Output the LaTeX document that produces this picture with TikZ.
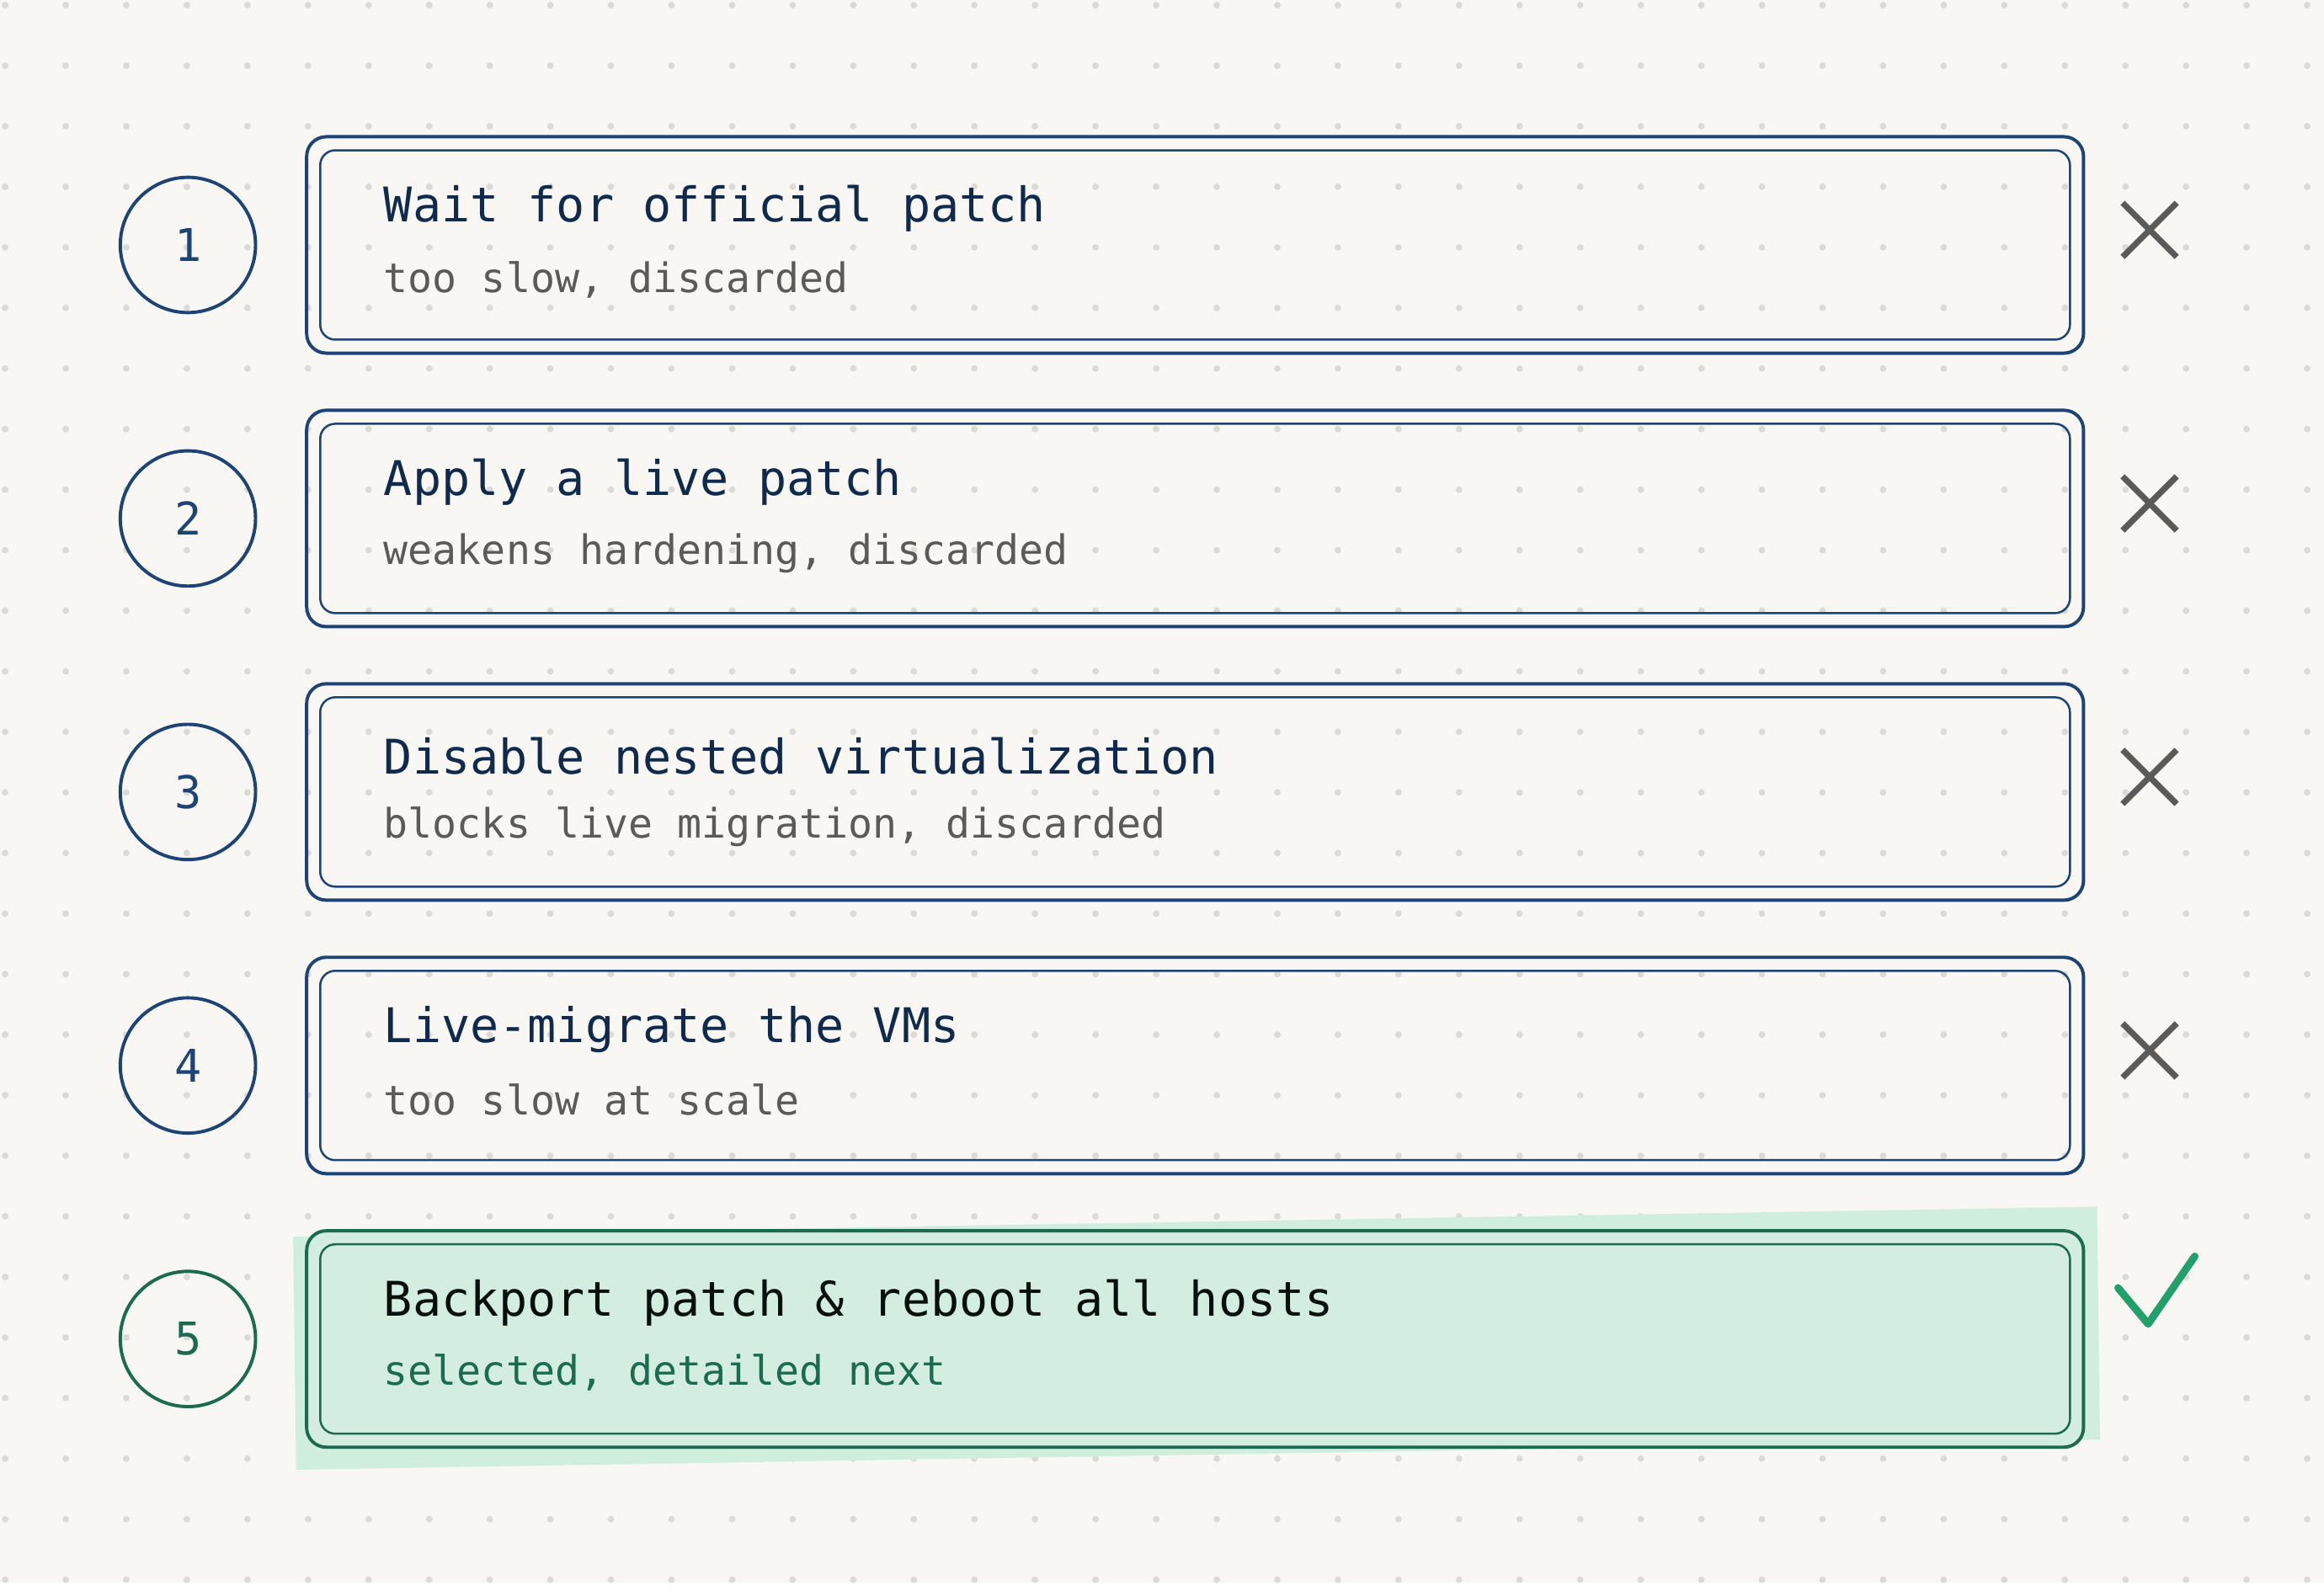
\documentclass[tikz,border=0pt]{standalone}
\usepackage{fontspec}
\setmonofont{DejaVu Sans Mono}
\definecolor{paper}{HTML}{F8F7F3}
\definecolor{dotc}{HTML}{DCDAD4}
\definecolor{navy}{HTML}{1E4476}
\definecolor{ink}{HTML}{0F2A4D}
\definecolor{muted}{HTML}{5A5A58}
\definecolor{pine}{HTML}{1A6B4F}
\definecolor{mint}{HTML}{D3EEE0}
\definecolor{glow}{HTML}{CFEEDE}
\definecolor{tick}{HTML}{22A06B}
\tikzset{every picture/.style={line width=0.75pt}}
\tikzset{
  badge/.style={draw=navy,line width=2.2pt,circle,minimum size=90pt,inner sep=0pt,font=\ttfamily\fontsize{30}{30}\selectfont,text=navy},
  card/.style={draw=navy,line width=2.2pt,rounded corners=13pt},
  cardin/.style={draw=navy,line width=1.4pt,rounded corners=10pt},
  ttl/.style={anchor=west,inner sep=0pt,font=\ttfamily\fontsize{31.8}{32}\selectfont,text=ink},
  sub/.style={anchor=west,inner sep=0pt,font=\ttfamily\fontsize{27}{28}\selectfont,text=muted},
  nope/.style={draw=muted,line width=4pt}
}
\begin{document}
\begin{tikzpicture}[x=1pt,y=1pt,yscale=-1]
\fill[paper] (0,0) rectangle (1546,1062);
\useasboundingbox (0,0) rectangle (1546,1062);
\fill[white] (0,1053) rectangle (1546,1062);
% dotted grid
\foreach \i in {0,...,38}{\foreach \j in {0,...,26}{
  \fill[dotc] (40.3*\i+3.4,40.3*\j+3.4) circle (2.2pt);}}
% highlight behind the chosen option
\fill[glow] (195,823) -- (1395,803) -- (1397,958) -- (197,978) -- cycle;
% rejected options
\foreach \n/\t/\s in {1/Wait for official patch/{too slow, discarded},
  2/Apply a live patch/{weakens hardening, discarded},
  3/Disable nested virtualization/{blocks live migration, discarded},
  4/Live-migrate the VMs/{too slow at scale}}{
  \pgfmathsetmacro\yc{163+182*(\n-1)}
  \node[badge] (n\n) at (125,\yc) {\n};
  \draw[card] (204,\yc-72) rectangle (1386,\yc+72);
  \draw[cardin] (213,\yc-63) rectangle (1377,\yc+63);
  \node[ttl] (t\n) at (255,\yc-24) {\t};
  \node[sub] (s\n) at (255,\yc+23) {\s};
  \draw[nope] (1412,\yc-28) -- (1448,\yc+8) (1448,\yc-28) -- (1412,\yc+8);
}
% selected option
\node[badge,draw=pine,text=pine] (n5) at (125,891) {5};
\draw[card,draw=pine,fill=mint] (204,819) rectangle (1386,963);
\draw[cardin,draw=pine] (213,828) rectangle (1377,954);
\node[ttl,text=black!85!pine] (t5) at (255,867) {Backport patch \& reboot all hosts};
\node[sub,text=pine] (s5) at (255,913) {selected, detailed next};
\draw[tick,line width=5pt,line cap=round,line join=round] (1409,857) -- (1429,881) -- (1460,836);
\end{tikzpicture}
\end{document}
